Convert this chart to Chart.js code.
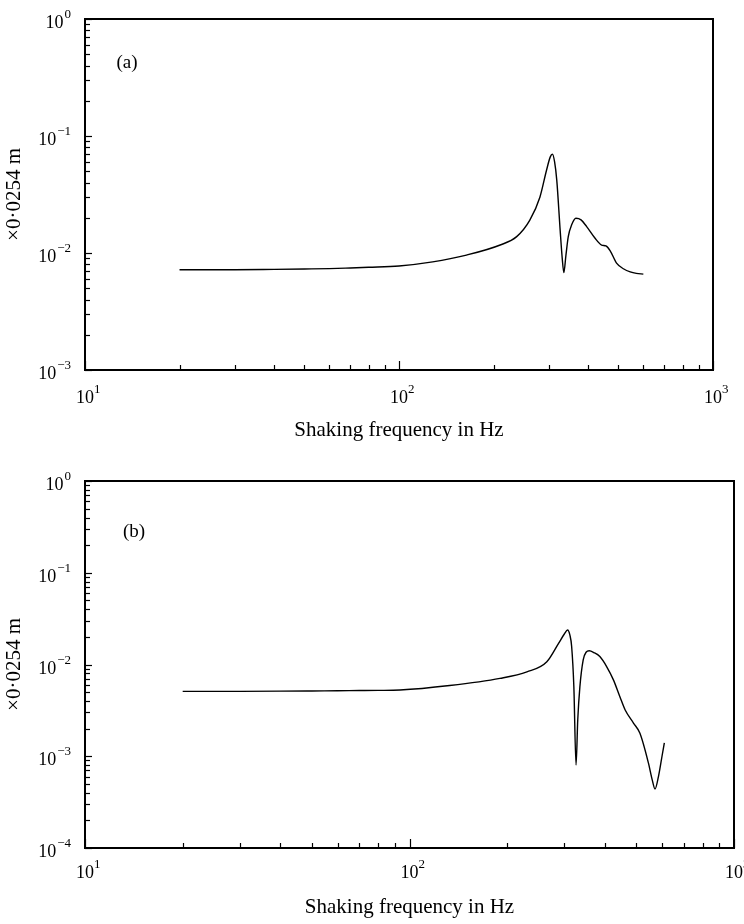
<!DOCTYPE html>
<html>
<head>
<meta charset="utf-8">
<script src="https://cdn.jsdelivr.net/npm/chart.js@4.4.1/dist/chart.umd.min.js"></script>
<style>
  body { margin: 0; background: #fff; }
  #wrap { position: relative; width: 744px; height: 924px; }
  canvas { position: absolute; left: 0; }
</style>
</head>
<body>
<div id="wrap">
  <canvas id="chartA" width="744" height="450" style="top:0"></canvas>
  <canvas id="chartB" width="744" height="464" style="top:460px"></canvas>
</div>
<script>
// panel (a)
const freqA = [20, 30, 40, 50, 60, 70, 80, 100, 128, 164, 210, 237, 261, 281, 295, 303, 308, 313, 318, 326, 331, 335, 340, 346, 355, 366, 380, 396, 420, 442, 456, 470, 493, 520, 545, 570, 600];
const ampA = [7.2e-3, 7.2e-3, 7.25e-3, 7.3e-3, 7.35e-3, 7.45e-3, 7.55e-3, 7.75e-3, 8.4e-3, 9.6e-3, 1.17e-2, 1.38e-2, 1.91e-2, 3.0e-2, 5.1e-2, 6.6e-2, 7.0e-2, 6.0e-2, 4.2e-2, 1.57e-2, 9e-3, 6.8e-3, 9.5e-3, 1.38e-2, 1.75e-2, 1.98e-2, 1.92e-2, 1.68e-2, 1.35e-2, 1.17e-2, 1.15e-2, 1.05e-2, 8.2e-3, 7.3e-3, 6.9e-3, 6.7e-3, 6.6e-3];

// panel (b)
const freqB = [20, 30, 40, 50, 60, 70, 80, 93.5, 133, 190, 230, 265, 288, 300, 307, 312, 316, 321, 326, 330, 335, 343, 350, 358, 370, 386, 405, 425, 445, 462, 490, 513, 545, 560, 571, 585, 600, 610];
const ampB = [5.1e-3, 5.1e-3, 5.12e-3, 5.15e-3, 5.18e-3, 5.2e-3, 5.22e-3, 5.27e-3, 5.9e-3, 7.05e-3, 8.3e-3, 1.07e-2, 1.7e-2, 2.15e-2, 2.38e-2, 2.1e-2, 1.57e-2, 5.7e-3, 8e-4, 2.5e-3, 5.7e-3, 1.12e-2, 1.36e-2, 1.41e-2, 1.35e-2, 1.22e-2, 9.5e-3, 6.8e-3, 4.45e-3, 3.19e-3, 2.3e-3, 1.78e-3, 8.4e-4, 5.5e-4, 4.4e-4, 6e-4, 1.0e-3, 1.4e-3];

// tick labels (10^n)
const xTicks = [10, 100, 1000];
const xExps = ['1', '2', '3'];
const yTicksA = [1e-3, 1e-2, 1e-1, 1];
const yExpsA = ['\u22123', '\u22122', '\u22121', '0'];
const yTicksB = [1e-4, 1e-3, 1e-2, 1e-1, 1];
const yExpsB = ['\u22124', '\u22123', '\u22122', '\u22121', '0'];

const xTitle = 'Shaking frequency in Hz';
const yTitle = '\u00d70\u00b70254 m';

const serif = '"Liberation Serif", "DejaVu Serif", serif';

function logTicks(min, max) {
  const out = [];
  for (let e = Math.round(Math.log10(min)); e < Math.round(Math.log10(max)); e++) {
    for (let k = 1; k < 10; k++) out.push({ value: k * Math.pow(10, e) });
  }
  out.push({ value: max });
  return out;
}

function isMajor(v) {
  const l = Math.log10(v);
  return Math.abs(l - Math.round(l)) < 1e-9;
}

// inward ticks, frame, 10^n labels and panel letter
const frameTicks = {
  id: 'frameTicks',
  afterDraw(chart, args, opts) {
    const { ctx, chartArea: a, scales: { x, y } } = chart;
    ctx.save();
    ctx.strokeStyle = '#000';
    ctx.lineWidth = 1.2;
    x.ticks.forEach(t => {
      const px = Math.round(x.getPixelForValue(t.value)) + 0.5;
      ctx.beginPath();
      ctx.moveTo(px, a.bottom);
      ctx.lineTo(px, a.bottom - (isMajor(t.value) ? 9 : 5));
      ctx.stroke();
    });
    y.ticks.forEach(t => {
      const py = Math.round(y.getPixelForValue(t.value)) + 0.5;
      ctx.beginPath();
      ctx.moveTo(a.left, py);
      ctx.lineTo(a.left + (isMajor(t.value) ? 7 : 5), py);
      ctx.stroke();
    });
    ctx.lineWidth = 2;
    ctx.strokeRect(a.left, a.top, a.right - a.left, a.bottom - a.top);

    ctx.fillStyle = '#000';
    ctx.textBaseline = 'alphabetic';
    // x labels
    opts.xTicks.forEach((v, i) => {
      const px = x.getPixelForValue(v);
      ctx.font = '18px ' + serif;
      ctx.textAlign = 'center';
      const w = ctx.measureText('10').width;
      ctx.fillText('10', px, a.bottom + opts.xLab);
      ctx.font = '13px ' + serif;
      ctx.textAlign = 'left';
      ctx.fillText(opts.xExps[i], px + w / 2, a.bottom + opts.xLab - 10);
    });
    // y labels
    opts.yTicks.forEach((v, i) => {
      const py = y.getPixelForValue(v);
      ctx.font = '13px ' + serif;
      ctx.textAlign = 'right';
      const ew = ctx.measureText(opts.yExps[i]).width;
      ctx.fillText(opts.yExps[i], a.left - 14, py - 1);
      ctx.font = '18px ' + serif;
      ctx.fillText('10', a.left - 15 - ew, py + 9);
    });
    // panel letter
    ctx.font = '19px ' + serif;
    ctx.textAlign = 'center';
    ctx.fillText(opts.letter, a.left + opts.lx, a.top + opts.ly);
    ctx.restore();
  }
};

function makeChart(id, freq, amp, yMin, yTicks, yExps, letter, pad, xH, extra) {
  return new Chart(document.getElementById(id), {
    type: 'line',
    data: {
      datasets: [{
        data: freq.map((f, i) => ({ x: f, y: amp[i] })),
        borderColor: '#000',
        borderWidth: 1.4,
        pointRadius: 0,
        cubicInterpolationMode: 'monotone',
        fill: false
      }]
    },
    options: {
      responsive: false,
      animation: false,
      devicePixelRatio: 1,
      layout: { padding: pad },
      plugins: {
        legend: { display: false },
        tooltip: { enabled: false },
        frameTicks: Object.assign({ xTicks, xExps, yTicks, yExps, letter }, extra)
      },
      scales: {
        x: {
          type: 'logarithmic',
          min: 10, max: 1000,
          grid: { display: false },
          border: { display: false },
          ticks: { display: false },
          afterBuildTicks: s => { s.ticks = logTicks(10, 1000); },
          afterFit: s => { s.height = xH; },
          title: {
            display: true, text: xTitle, color: '#000',
            font: { family: serif, size: 21 }, padding: { top: 0, bottom: extra.tPad }
          }
        },
        y: {
          type: 'logarithmic',
          min: yMin, max: 1,
          grid: { display: false },
          border: { display: false },
          ticks: { display: false },
          afterBuildTicks: s => { s.ticks = logTicks(yMin, 1); },
          afterFit: s => { s.width = 85; },
          title: {
            display: true, text: yTitle, color: '#000',
            font: { family: serif, size: 21 }, padding: { top: 2, bottom: 0 }
          }
        }
      }
    },
    plugins: [frameTicks]
  });
}

makeChart('chartA', freqA, ampA, 1e-3, yTicksA, yExpsA, '(a)',
  { top: 19, right: 31, bottom: 0, left: 0 }, 80,
  { xLab: 33, lx: 42, ly: 49, tPad: 7 });
makeChart('chartB', freqB, ampB, 1e-4, yTicksB, yExpsB, '(b)',
  { top: 21, right: 10, bottom: 0, left: 0 }, 76,
  { xLab: 30, lx: 49, ly: 56, tPad: 4 });
</script>
</body>
</html>
